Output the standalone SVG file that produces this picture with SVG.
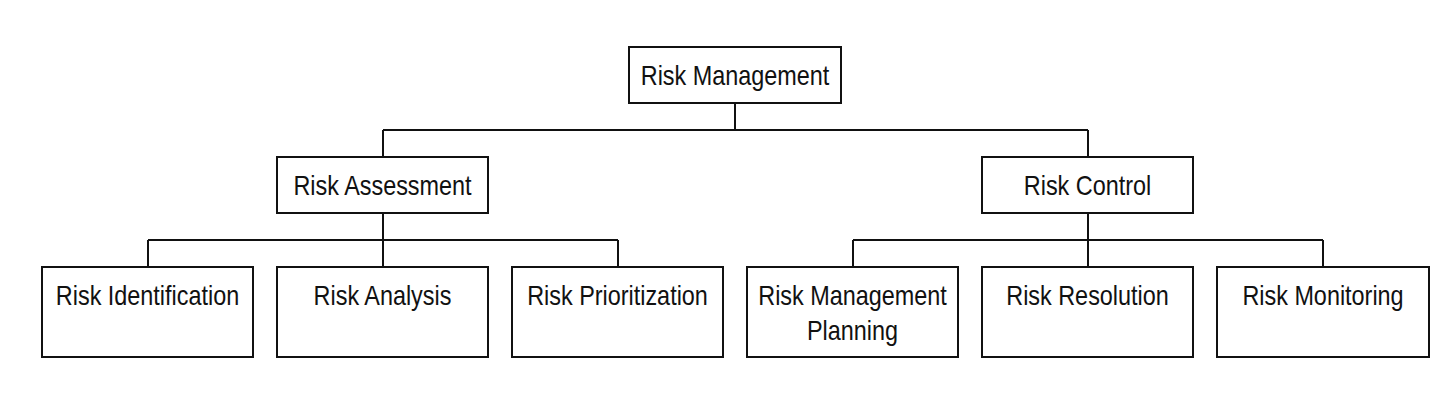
<svg xmlns="http://www.w3.org/2000/svg" width="1456" height="408" viewBox="0 0 1456 408">
<style>
.box{fill:#fff;stroke:#111;stroke-width:2}
.lbl{font-family:"Liberation Sans",Arial,sans-serif;font-size:27px;fill:#111;text-anchor:middle}
.con{fill:none;stroke:#111;stroke-width:2}
</style>
<rect width="1456" height="408" fill="#fff"/>
<g id="connectors">
<path class="con" d="M735 103V130M383 130H1088M383 130V157M1088 130V157"/>
<path class="con" d="M383 213V267M148 240H618M148 240V267M618 240V267"/>
<path class="con" d="M1088 213V267M853 240H1323M853 240V267M1323 240V267"/>
</g>
<g id="risk-management">
<rect class="box" x="629" y="47" width="212" height="56"/>
<text class="lbl" transform="translate(735 85) scale(0.867 1)">Risk Management</text>
</g>
<g id="risk-assessment">
<rect class="box" x="277" y="157" width="211" height="56"/>
<text class="lbl" transform="translate(382.5 195) scale(0.867 1)">Risk Assessment</text>
</g>
<g id="risk-control">
<rect class="box" x="982" y="157" width="211" height="56"/>
<text class="lbl" transform="translate(1087.5 195) scale(0.867 1)">Risk Control</text>
</g>
<g id="risk-identification">
<rect class="box" x="42" y="267" width="211" height="90"/>
<text class="lbl" transform="translate(147.5 305) scale(0.867 1)">Risk Identification</text>
</g>
<g id="risk-analysis">
<rect class="box" x="277" y="267" width="211" height="90"/>
<text class="lbl" transform="translate(382.5 305) scale(0.867 1)">Risk Analysis</text>
</g>
<g id="risk-prioritization">
<rect class="box" x="512" y="267" width="211" height="90"/>
<text class="lbl" transform="translate(617.5 305) scale(0.867 1)">Risk Prioritization</text>
</g>
<g id="risk-management-planning">
<rect class="box" x="747" y="267" width="211" height="90"/>
<text class="lbl" transform="translate(852.5 305) scale(0.867 1)">Risk Management</text>
<text class="lbl" transform="translate(852.5 340) scale(0.867 1)">Planning</text>
</g>
<g id="risk-resolution">
<rect class="box" x="982" y="267" width="211" height="90"/>
<text class="lbl" transform="translate(1087.5 305) scale(0.867 1)">Risk Resolution</text>
</g>
<g id="risk-monitoring">
<rect class="box" x="1217" y="267" width="212" height="90"/>
<text class="lbl" transform="translate(1323 305) scale(0.867 1)">Risk Monitoring</text>
</g>
</svg>
